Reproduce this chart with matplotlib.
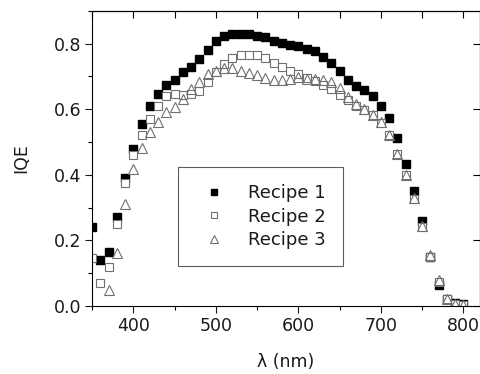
import matplotlib
matplotlib.use("Agg")
import matplotlib.pyplot as plt
from matplotlib.ticker import MultipleLocator, FormatStrFormatter

plt.rcParams['font.family'] = ['DejaVu Sans']

# wavelength grids (nm)
wl_12 = [350, 360, 370, 380, 390, 400, 410, 420, 430, 440, 450, 460, 470, 480, 490,
         500, 510, 520, 530, 540, 550, 560, 570, 580, 590, 600, 610, 620, 630, 640,
         650, 660, 670, 680, 690, 700, 710, 720, 730, 740, 750, 760, 770, 780, 790, 800]
wl_3 = wl_12[2:]

recipe1 = [0.24, 0.14, 0.165, 0.27, 0.39, 0.48, 0.555, 0.61, 0.647, 0.675, 0.69, 0.712,
           0.728, 0.754, 0.782, 0.808, 0.824, 0.83, 0.83, 0.828, 0.823, 0.819, 0.809,
           0.802, 0.797, 0.792, 0.784, 0.777, 0.758, 0.74, 0.716, 0.69, 0.672, 0.659,
           0.639, 0.611, 0.574, 0.513, 0.432, 0.35, 0.26, 0.15, 0.064, 0.021, 0.008, 0.005]
recipe2 = [0.146, 0.07, 0.12, 0.25, 0.375, 0.46, 0.52, 0.57, 0.61, 0.64, 0.646, 0.644,
           0.647, 0.657, 0.684, 0.713, 0.738, 0.756, 0.766, 0.766, 0.765, 0.757, 0.741,
           0.728, 0.716, 0.706, 0.695, 0.687, 0.675, 0.662, 0.644, 0.629, 0.611, 0.598,
           0.581, 0.559, 0.52, 0.464, 0.398, 0.325, 0.241, 0.15, 0.074, 0.02, 0.005, 0.003]
recipe3 = [0.048, 0.162, 0.31, 0.419, 0.483, 0.53, 0.56, 0.59, 0.608, 0.632, 0.662,
           0.682, 0.706, 0.718, 0.725, 0.726, 0.716, 0.71, 0.703, 0.695, 0.69, 0.69,
           0.693, 0.699, 0.693, 0.692, 0.688, 0.683, 0.665, 0.637, 0.617, 0.601, 0.581,
           0.561, 0.52, 0.464, 0.398, 0.33, 0.245, 0.155, 0.078, 0.022, 0.006, 0.003]

fig = plt.figure(figsize=(4.8, 3.74), dpi=100)
ax = fig.add_axes([0.192, 0.182, 0.808, 0.789])

grey = "#707070"
ink = "#1a1a1a"
ax.plot(wl_12, recipe1, ls="none", marker="s", ms=5.2, mfc="black", mec="black",
        label="Recipe 1")
ax.plot(wl_12, recipe2, ls="none", marker="s", ms=5.2, mfc="white", mec=grey, mew=0.8,
        label="Recipe 2")
ax.plot(wl_3, recipe3, ls="none", marker="^", ms=6.5, mfc="none", mec=grey, mew=0.8,
        label="Recipe 3")

ax.set_xlim(350, 820)
ax.set_ylim(0, 0.9)
ax.xaxis.set_major_locator(MultipleLocator(100))
ax.xaxis.set_minor_locator(MultipleLocator(50))
ax.yaxis.set_major_locator(MultipleLocator(0.2))
ax.yaxis.set_minor_locator(MultipleLocator(0.1))
ax.yaxis.set_major_formatter(FormatStrFormatter("%.1f"))
ax.tick_params(which="major", direction="out", length=5, width=0.8, labelsize=12.5,
               colors=ink, pad=3)
ax.tick_params(which="minor", direction="out", length=3, width=0.8)

top = ax.secondary_xaxis("top")
top.xaxis.set_major_locator(MultipleLocator(50))
top.tick_params(direction="in", length=5, width=0.8, labeltop=False)
right = ax.secondary_yaxis("right")
right.yaxis.set_major_locator(MultipleLocator(0.2))
right.tick_params(direction="in", length=5, width=0.8, labelright=False)

ax.set_xlabel("λ (nm)", fontsize=12.5, color=ink, labelpad=13)
ax.set_ylabel("IQE", fontsize=12.5, color=ink, labelpad=17)

leg = ax.legend(loc="upper left", bbox_to_anchor=(0.2216, 0.4707), borderaxespad=0,
                fontsize=13, frameon=True, fancybox=False, edgecolor="#333333",
                borderpad=0.95, handletextpad=0.8, labelspacing=0.3, handlelength=2.1,
                markerscale=0.9)
leg.get_frame().set_linewidth(0.8)
for t in leg.get_texts():
    t.set_color(ink)

fig.savefig("out.png", dpi=100)
